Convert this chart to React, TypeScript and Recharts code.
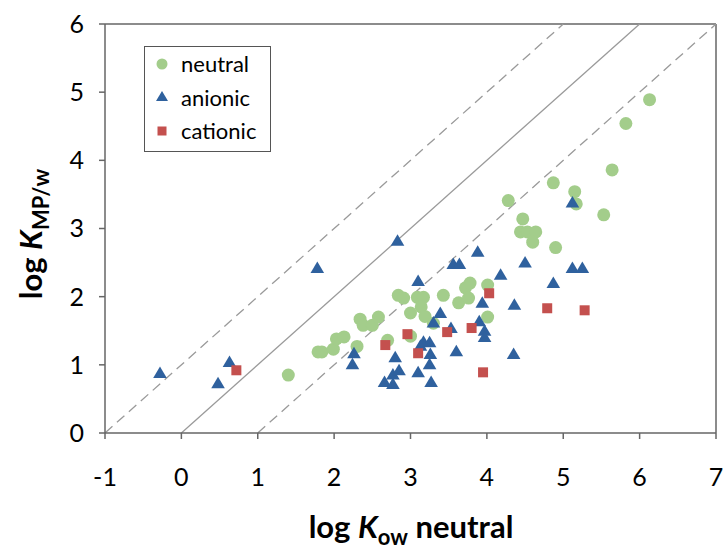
import { ScatterChart, Scatter, XAxis, YAxis, ReferenceLine, Legend, Label } from 'recharts';

const xTicks = [-1, 0, 1, 2, 3, 4, 5, 6, 7];
const yTicks = [0, 1, 2, 3, 4, 5, 6];

const neutral = [
  [1.4, 0.85], [1.79, 1.19], [1.84, 1.19], [1.99, 1.23], [2.03, 1.38], [2.13, 1.41],
  [2.3, 1.27], [2.34, 1.67], [2.38, 1.58], [2.5, 1.58], [2.58, 1.7], [2.7, 1.36],
  [2.84, 2.02], [2.91, 1.98], [3.0, 1.76], [3.0, 1.42], [3.09, 1.99], [3.17, 1.99],
  [3.14, 1.85], [3.19, 1.71], [3.3, 1.61], [3.43, 2.02], [3.63, 1.91], [3.72, 2.13],
  [3.78, 2.2], [3.76, 1.98], [4.01, 2.17], [4.01, 1.7], [4.28, 3.41], [4.47, 3.14],
  [4.44, 2.95], [4.53, 2.95], [4.64, 2.95], [4.6, 2.8], [4.87, 3.67], [4.9, 2.72],
  [5.15, 3.54], [5.17, 3.36], [5.53, 3.2], [5.64, 3.86], [5.82, 4.54], [6.13, 4.89],
];

const anionic = [
  [-0.28, 0.88], [0.48, 0.73], [0.63, 1.04], [1.78, 2.42], [2.24, 1.01], [2.26, 1.17],
  [2.66, 0.75], [2.77, 0.72], [2.77, 0.86], [2.8, 1.11], [2.83, 2.82], [2.85, 0.92],
  [3.1, 2.23], [3.1, 0.89], [3.13, 1.28], [3.17, 1.34], [3.25, 1.33], [3.26, 1.16],
  [3.27, 0.75], [3.25, 1.01], [3.3, 1.62], [3.39, 1.76], [3.53, 1.54], [3.56, 2.48],
  [3.64, 2.48], [3.6, 1.2], [3.88, 2.66], [3.9, 1.64], [3.94, 1.91], [3.97, 1.5],
  [3.97, 1.41], [4.18, 2.32], [4.36, 1.88], [4.35, 1.16], [4.5, 2.5], [4.87, 2.2],
  [5.12, 3.38], [5.12, 2.42], [5.25, 2.42],
];

const cationic = [
  [0.72, 0.92], [2.67, 1.29], [2.96, 1.45], [3.1, 1.17], [3.48, 1.48], [3.8, 1.54],
  [4.03, 2.05], [3.95, 0.89], [4.79, 1.83], [5.28, 1.8],
];

const toPoints = (list: number[][]) => list.map(([x, y]) => ({ x, y }));

const GREEN = '#a3cd8b';
const BLUE = '#2f619e';
const RED = '#c4504e';
const FONT = 'Lato, "Open Sans", sans-serif';

const Circle = (props: any) => <circle cx={props.cx} cy={props.cy} r={6.5} fill={GREEN} />;
const Triangle = (props: any) => {
  const { cx, cy } = props;
  return <polygon points={`${cx},${cy - 6.5} ${cx + 6.8},${cy + 5} ${cx - 6.8},${cy + 5}`} fill={BLUE} />;
};
const Square = (props: any) => <rect x={props.cx - 5} y={props.cy - 5} width={10} height={10} fill={RED} />;

const legendItems = [
  { name: 'neutral', kind: 'circle' },
  { name: 'anionic', kind: 'triangle' },
  { name: 'cationic', kind: 'square' },
];

const renderLegend = () => (
  <div
    style={{
      border: '1.5px solid #555',
      background: '#fff',
      width: 127,
      height: 106,
      boxSizing: 'border-box',
      paddingTop: 0,
      fontFamily: FONT,
      fontSize: 22,
    }}
  >
    {legendItems.map((item) => (
      <div key={item.name} style={{ display: 'flex', alignItems: 'center', height: 33.5 }}>
        <svg width={36} height={20}>
          {item.kind === 'circle' && <circle cx={17} cy={10} r={5.5} fill={GREEN} />}
          {item.kind === 'triangle' && <polygon points="17,4 23,14 11,14" fill={BLUE} />}
          {item.kind === 'square' && <rect x={12.5} y={5.5} width={9} height={9} fill={RED} />}
        </svg>
        <span style={{ color: '#000' }}>{item.name}</span>
      </div>
    ))}
  </div>
);

const XTitle = () => (
  <text x={411} y={538} textAnchor="middle" fontFamily={FONT} fontWeight="bold" fontSize={31} fill="#000">
    {'log '}
    <tspan fontStyle="italic">K</tspan>
    <tspan fontSize={22} dy={7}>ow</tspan>
    <tspan dy={-7}>{' neutral'}</tspan>
  </text>
);

const YTitle = () => (
  <text
    transform="translate(42,234) rotate(-90)"
    textAnchor="middle"
    fontFamily={FONT}
    fontWeight="bold"
    fontSize={31}
    fill="#000"
  >
    {'log '}
    <tspan fontStyle="italic">K</tspan>
    <tspan fontSize={22} dy={7}>MP/w</tspan>
  </text>
);

export default function App() {
  const axisStroke = '#666';
  return (
    <div style={{ position: 'absolute', left: 0, top: 0 }}>
      <ScatterChart width={724} height={550} margin={{ top: 24, right: 8, left: 0, bottom: 0 }}>
        <XAxis
          type="number"
          dataKey="x"
          domain={[-1, 7]}
          ticks={xTicks}
          height={117}
          tickSize={6}
          tickMargin={29}
          stroke={axisStroke}
          strokeWidth={1.5}
          tick={{ fill: '#000', fontSize: 25, fontFamily: FONT }}
          allowDataOverflow
        >
          <Label content={XTitle} />
        </XAxis>
        <YAxis
          type="number"
          dataKey="y"
          domain={[0, 6]}
          ticks={yTicks}
          width={105}
          tickSize={6}
          tickMargin={15}
          stroke={axisStroke}
          strokeWidth={1.5}
          tick={{ fill: '#000', fontSize: 25, fontFamily: FONT }}
          allowDataOverflow
        >
          <Label content={YTitle} />
        </YAxis>
        <ReferenceLine y={6} stroke={axisStroke} strokeWidth={1.5} />
        <ReferenceLine x={7} stroke={axisStroke} strokeWidth={1.5} />
        <ReferenceLine segment={[{ x: 0, y: 0 }, { x: 6, y: 6 }]} stroke="#9a9a9a" strokeWidth={1.3} />
        <ReferenceLine
          segment={[{ x: -1, y: 0 }, { x: 5, y: 6 }]}
          stroke="#9a9a9a"
          strokeWidth={1.3}
          strokeDasharray="10 6"
        />
        <ReferenceLine
          segment={[{ x: 1, y: 0 }, { x: 7, y: 6 }]}
          stroke="#9a9a9a"
          strokeWidth={1.3}
          strokeDasharray="10 6"
        />
        <Legend
          layout="vertical"
          align="center"
          verticalAlign="middle"
          content={renderLegend}
          wrapperStyle={{ left: 144, top: 46, width: 127, height: 106 }}
        />
        <Scatter name="neutral" data={toPoints(neutral)} shape={Circle} isAnimationActive={false} />
        <Scatter name="anionic" data={toPoints(anionic)} shape={Triangle} isAnimationActive={false} />
        <Scatter name="cationic" data={toPoints(cationic)} shape={Square} isAnimationActive={false} />
      </ScatterChart>
    </div>
  );
}
